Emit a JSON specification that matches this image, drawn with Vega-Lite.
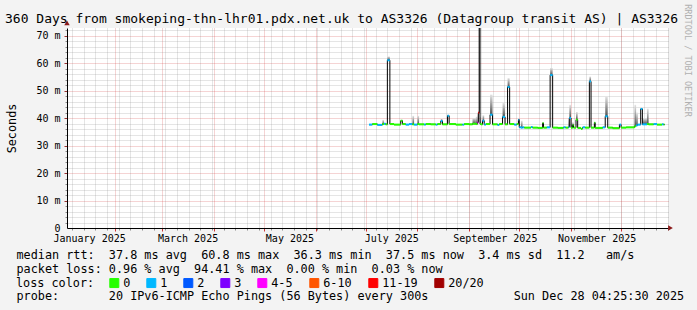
{
  "$schema": "https://vega.github.io/schema/vega-lite/v6.json",
  "width": 601,
  "height": 200,
  "autosize": {"type": "none"},
  "padding": {"left": 67, "top": 28, "right": 29, "bottom": 82},
  "background": "#f3f3f3",
  "view": {"fill": "#ffffff", "stroke": null},
  "config": {
    "font": "DejaVu Sans Mono",
    "axis": {"labelFont": "DejaVu Sans Mono", "titleFont": "DejaVu Sans Mono", "titleFontWeight": "normal", "labelColor": "#000000", "titleColor": "#000000"}
  },
  "title": {
    "text": "360 Days from smokeping-thn-lhr01.pdx.net.uk to AS3326 (Datagroup transit AS) | AS3326",
    "anchor": "start", "frame": "group", "font": "DejaVu Sans Mono", "fontSize": 13, "fontWeight": "normal",
    "color": "#000000", "baseline": "alphabetic", "offset": 4, "dx": -62, "dy": 36
  },
  "data": {"values": [
    {"t":"2025-07-03","m":37.6,"l":"1"},
    {"t":"2025-07-05","m":37.8,"l":"0"},
    {"t":"2025-07-08","m":37.5,"l":"1"},
    {"t":"2025-07-11","m":37.8,"l":"0","s":39.3},
    {"t":"2025-07-12","m":37.9,"l":"1"},
    {"t":"2025-07-13","m":37.7,"l":"0"},
    {"t":"2025-07-14","m":61.0,"l":"1","s":62.4},
    {"t":"2025-07-15T12:00:00Z","m":37.8,"l":"0"},
    {"t":"2025-07-18","m":37.6,"l":"0"},
    {"t":"2025-07-22","m":39.0,"l":"0","s":39.4},
    {"t":"2025-07-23","m":37.8,"l":"0"},
    {"t":"2025-07-25","m":37.6,"l":"1"},
    {"t":"2025-07-27","m":37.8,"l":"1"},
    {"t":"2025-07-29","m":37.7,"l":"0","s":40.8},
    {"t":"2025-07-30","m":37.6,"l":"1"},
    {"t":"2025-08-01","m":37.8,"l":"0","s":40.8},
    {"t":"2025-08-02","m":37.7,"l":"0"},
    {"t":"2025-08-05","m":37.6,"l":"1"},
    {"t":"2025-08-06","m":37.8,"l":"0"},
    {"t":"2025-08-09","m":37.7,"l":"0"},
    {"t":"2025-08-12","m":37.6,"l":"1"},
    {"t":"2025-08-13","m":37.8,"l":"0"},
    {"t":"2025-08-15","m":38.9,"l":"1","s":39.8},
    {"t":"2025-08-16","m":37.7,"l":"0"},
    {"t":"2025-08-19","m":40.8,"l":"1","s":41.3},
    {"t":"2025-08-20","m":37.8,"l":"0"},
    {"t":"2025-08-24","m":37.6,"l":"0"},
    {"t":"2025-08-28","m":37.6,"l":"1"},
    {"t":"2025-08-29","m":37.8,"l":"0"},
    {"t":"2025-09-01","m":37.7,"l":"0"},
    {"t":"2025-09-03","m":37.9,"l":"0","s":40.0},
    {"t":"2025-09-05","m":37.8,"l":"0","s":40.5},
    {"t":"2025-09-06","m":38.4,"l":"4-5","s":41.5},
    {"t":"2025-09-06T12:00:00Z","m":41.9,"l":"11-19","s":42.5},
    {"t":"2025-09-07","m":85.0,"l":"20/20"},
    {"t":"2025-09-07T12:00:00Z","m":37.8,"l":"0","s":40.5},
    {"t":"2025-09-08","m":37.7,"l":"0"},
    {"t":"2025-09-09","m":39.0,"l":"1","s":41.0},
    {"t":"2025-09-10","m":37.6,"l":"1"},
    {"t":"2025-09-11","m":37.8,"l":"0"},
    {"t":"2025-09-13T12:00:00Z","m":41.2,"l":"1","s":48.5},
    {"t":"2025-09-15","m":37.7,"l":"0"},
    {"t":"2025-09-18","m":37.5,"l":"1"},
    {"t":"2025-09-19","m":37.8,"l":"0"},
    {"t":"2025-09-21","m":40.4,"l":"1","s":45.5},
    {"t":"2025-09-22T12:00:00Z","m":37.7,"l":"0"},
    {"t":"2025-09-24","m":51.3,"l":"1","s":54.5},
    {"t":"2025-09-25T06:00:00Z","m":37.8,"l":"0"},
    {"t":"2025-09-28","m":37.6,"l":"1"},
    {"t":"2025-09-29T12:00:00Z","m":37.8,"l":"0"},
    {"t":"2025-09-30T12:00:00Z","m":39.4,"l":"1","s":39.8},
    {"t":"2025-10-01","m":36.6,"l":"1"},
    {"t":"2025-10-02","m":36.5,"l":"1","s":39.0},
    {"t":"2025-10-03","m":36.6,"l":"1"},
    {"t":"2025-10-04","m":36.5,"l":"0"},
    {"t":"2025-10-08","m":36.7,"l":"1"},
    {"t":"2025-10-09","m":36.5,"l":"0"},
    {"t":"2025-10-12","m":36.4,"l":"0"},
    {"t":"2025-10-15","m":38.2,"l":"0"},
    {"t":"2025-10-15T12:00:00Z","m":36.5,"l":"0"},
    {"t":"2025-10-17T12:00:00Z","m":36.6,"l":"1"},
    {"t":"2025-10-19T12:00:00Z","m":55.6,"l":"1","s":58.2},
    {"t":"2025-10-21","m":36.5,"l":"0"},
    {"t":"2025-10-24","m":36.4,"l":"0"},
    {"t":"2025-10-27T12:00:00Z","m":36.6,"l":"1"},
    {"t":"2025-10-28T18:00:00Z","m":36.5,"l":"0"},
    {"t":"2025-10-30T12:00:00Z","m":36.7,"l":"1","s":40.0},
    {"t":"2025-10-31","m":40.0,"l":"1","s":44.8},
    {"t":"2025-11-01","m":36.5,"l":"0","s":38.5},
    {"t":"2025-11-02","m":37.5,"l":"0","s":38.5},
    {"t":"2025-11-02T12:00:00Z","m":36.5,"l":"0"},
    {"t":"2025-11-04","m":39.4,"l":"0","s":42.2},
    {"t":"2025-11-05","m":36.4,"l":"0"},
    {"t":"2025-11-07","m":36.0,"l":"0"},
    {"t":"2025-11-07T18:00:00Z","m":36.4,"l":"0"},
    {"t":"2025-11-08","m":36.6,"l":"1"},
    {"t":"2025-11-09T12:00:00Z","m":36.5,"l":"0"},
    {"t":"2025-11-12","m":53.3,"l":"1","s":55.1},
    {"t":"2025-11-13","m":36.5,"l":"0"},
    {"t":"2025-11-15","m":38.3,"l":"0"},
    {"t":"2025-11-15T12:00:00Z","m":36.4,"l":"0"},
    {"t":"2025-11-20","m":36.6,"l":"1"},
    {"t":"2025-11-21T12:00:00Z","m":40.6,"l":"1","s":47.9},
    {"t":"2025-11-23","m":36.5,"l":"0"},
    {"t":"2025-11-26","m":36.3,"l":"0"},
    {"t":"2025-11-30","m":37.6,"l":"1"},
    {"t":"2025-12-01","m":36.5,"l":"0"},
    {"t":"2025-12-04","m":36.6,"l":"0"},
    {"t":"2025-12-09","m":37.0,"l":"0","s":44.8},
    {"t":"2025-12-10","m":37.4,"l":"1","s":42.0},
    {"t":"2025-12-11","m":37.6,"l":"1"},
    {"t":"2025-12-12T18:00:00Z","m":43.3,"l":"1","s":43.6},
    {"t":"2025-12-13T18:00:00Z","m":37.7,"l":"1","s":40.0},
    {"t":"2025-12-16T12:00:00Z","m":37.8,"l":"0","s":43.4},
    {"t":"2025-12-17T12:00:00Z","m":37.7,"l":"0"},
    {"t":"2025-12-20T12:00:00Z","m":37.8,"l":"1"},
    {"t":"2025-12-22T12:00:00Z","m":37.6,"l":"0"},
    {"t":"2025-12-25T12:00:00Z","m":37.7,"l":"1"},
    {"t":"2025-12-26T12:00:00Z","m":37.6,"l":"0"},
    {"t":"2025-12-27","m":37.5,"l":"0"}
  ]},
  "transform": [
    {"window": [{"op": "lead", "field": "t", "as": "t2"}], "sort": [{"field": "t", "order": "ascending"}]}
  ],
  "layer": [
    {
      "transform": [{"filter": "isValid(datum.s) && isValid(datum.t2)"}],
      "mark": {"type": "rect", "clip": true, "fill": {"gradient": "linear", "x1": 0, "y1": 1, "x2": 0, "y2": 0, "stops": [{"offset": 0, "color": "#505050"}, {"offset": 1, "color": "#e4e4e4"}]}},
      "encoding": {
        "x": {"field": "t", "type": "temporal",
          "scale": {"type": "utc", "domain": [{"year": 2025, "month": 1, "date": 3, "hours": 2, "minutes": 24, "utc": true}, {"year": 2025, "month": 12, "date": 29, "hours": 2, "minutes": 24, "utc": true}]},
          "axis": {"orient": "bottom", "labels": false, "domain": false, "grid": true, "gridColor": "#8c8c8c", "gridOpacity": 0.45, "gridDash": [1, 1], "ticks": true, "tickSize": 2, "tickColor": "#8c8c8c",
            "title": "probe:\u00a0\u00a0\u00a0\u00a0\u00a0\u00a0\u00a020 IPv6-ICMP Echo Pings (56 Bytes) every 300s\u00a0\u00a0\u00a0\u00a0\u00a0\u00a0\u00a0\u00a0\u00a0\u00a0\u00a0\u00a0Sun Dec 28 04:25:30 2025",
            "titleX": -51, "titleY": 71.3, "titleAlign": "left", "titleBaseline": "alphabetic", "titleFontSize": 11.8,
            "values": [
              {"year":2025,"month":1,"date":6,"utc":true},{"year":2025,"month":1,"date":13,"utc":true},{"year":2025,"month":1,"date":20,"utc":true},{"year":2025,"month":1,"date":27,"utc":true},
              {"year":2025,"month":2,"date":3,"utc":true},{"year":2025,"month":2,"date":10,"utc":true},{"year":2025,"month":2,"date":17,"utc":true},{"year":2025,"month":2,"date":24,"utc":true},
              {"year":2025,"month":3,"date":3,"utc":true},{"year":2025,"month":3,"date":10,"utc":true},{"year":2025,"month":3,"date":17,"utc":true},{"year":2025,"month":3,"date":24,"utc":true},{"year":2025,"month":3,"date":31,"utc":true},
              {"year":2025,"month":4,"date":7,"utc":true},{"year":2025,"month":4,"date":14,"utc":true},{"year":2025,"month":4,"date":21,"utc":true},{"year":2025,"month":4,"date":28,"utc":true},
              {"year":2025,"month":5,"date":5,"utc":true},{"year":2025,"month":5,"date":12,"utc":true},{"year":2025,"month":5,"date":19,"utc":true},{"year":2025,"month":5,"date":26,"utc":true},
              {"year":2025,"month":6,"date":2,"utc":true},{"year":2025,"month":6,"date":9,"utc":true},{"year":2025,"month":6,"date":16,"utc":true},{"year":2025,"month":6,"date":23,"utc":true},{"year":2025,"month":6,"date":30,"utc":true},
              {"year":2025,"month":7,"date":7,"utc":true},{"year":2025,"month":7,"date":14,"utc":true},{"year":2025,"month":7,"date":21,"utc":true},{"year":2025,"month":7,"date":28,"utc":true},
              {"year":2025,"month":8,"date":4,"utc":true},{"year":2025,"month":8,"date":11,"utc":true},{"year":2025,"month":8,"date":18,"utc":true},{"year":2025,"month":8,"date":25,"utc":true},
              {"year":2025,"month":9,"date":1,"utc":true},{"year":2025,"month":9,"date":8,"utc":true},{"year":2025,"month":9,"date":15,"utc":true},{"year":2025,"month":9,"date":22,"utc":true},{"year":2025,"month":9,"date":29,"utc":true},
              {"year":2025,"month":10,"date":6,"utc":true},{"year":2025,"month":10,"date":13,"utc":true},{"year":2025,"month":10,"date":20,"utc":true},{"year":2025,"month":10,"date":27,"utc":true},
              {"year":2025,"month":11,"date":3,"utc":true},{"year":2025,"month":11,"date":10,"utc":true},{"year":2025,"month":11,"date":17,"utc":true},{"year":2025,"month":11,"date":24,"utc":true},
              {"year":2025,"month":12,"date":1,"utc":true},{"year":2025,"month":12,"date":8,"utc":true},{"year":2025,"month":12,"date":15,"utc":true},{"year":2025,"month":12,"date":22,"utc":true},{"year":2025,"month":12,"date":29,"utc":true}
            ]}
        },
        "x2": {"field": "t2"},
        "y": {"field": "m", "type": "quantitative",
          "scale": {"domain": [0, 72.73], "nice": false, "zero": true},
          "axis": {"orient": "left", "title": null, "labels": false, "domain": false, "grid": true, "gridColor": "#8c8c8c", "gridOpacity": 0.45, "gridDash": [1, 1], "ticks": true, "tickSize": 2, "tickColor": "#8c8c8c",
            "values": [2,4,6,8,12,14,16,18,22,24,26,28,32,34,36,38,42,44,46,48,52,54,56,58,62,64,66,68,72]}
        },
        "y2": {"field": "s"}
      }
    },
    {
      "mark": {"type": "line", "interpolate": "step-after", "color": "#000000", "strokeWidth": 1, "clip": true},
      "encoding": {
        "x": {"field": "t", "type": "temporal",
          "axis": {"orient": "bottom", "title": null, "labels": false, "domain": false, "grid": true, "gridColor": "#cc3333", "gridOpacity": 0.42, "gridDash": [1, 1], "ticks": true, "tickSize": 3, "tickColor": "#cc3333",
            "values": [
              {"year":2025,"month":2,"date":1,"utc":true},{"year":2025,"month":3,"date":1,"utc":true},{"year":2025,"month":4,"date":1,"utc":true},{"year":2025,"month":5,"date":1,"utc":true},
              {"year":2025,"month":6,"date":1,"utc":true},{"year":2025,"month":7,"date":1,"utc":true},{"year":2025,"month":8,"date":1,"utc":true},{"year":2025,"month":9,"date":1,"utc":true},
              {"year":2025,"month":10,"date":1,"utc":true},{"year":2025,"month":11,"date":1,"utc":true},{"year":2025,"month":12,"date":1,"utc":true}
            ]}
        },
        "y": {"field": "m", "type": "quantitative",
          "axis": {"orient": "left", "labels": false, "domain": false, "grid": true, "gridColor": "#cc3333", "gridOpacity": 0.42, "gridDash": [1, 1], "ticks": true, "tickSize": 3, "tickColor": "#993333",
            "values": [10,20,30,40,50,60,70],
            "title": "RRDTOOL / TOBI OETIKER", "titleX": 620, "titleY": 32, "titleAngle": 90, "titleAlign": "center", "titleBaseline": "middle", "titleFontSize": 8.5, "titleColor": "#b0b0b0"}
        }
      }
    },
    {
      "transform": [{"filter": "isValid(datum.t2)"}],
      "mark": {"type": "rule", "strokeWidth": 2, "clip": true},
      "encoding": {
        "x": {"field": "t", "type": "temporal",
          "axis": {"orient": "bottom", "format": "%B %Y", "grid": false, "ticks": false, "tickSize": 0, "domain": true, "domainColor": "#000000", "domainWidth": 1,
            "labelFontSize": 10, "labelBaseline": "alphabetic", "labelPadding": 13, "labelFlush": false, "labelOverlap": false,
            "values": [
              {"year":2025,"month":1,"date":16,"hours":8,"utc":true},{"year":2025,"month":3,"date":16,"hours":8,"utc":true},{"year":2025,"month":5,"date":16,"hours":8,"utc":true},
              {"year":2025,"month":7,"date":16,"hours":8,"utc":true},{"year":2025,"month":9,"date":16,"hours":8,"utc":true},{"year":2025,"month":11,"date":16,"hours":8,"utc":true}
            ],
            "title": [
              "median rtt:\u00a0\u00a037.8 ms avg\u00a0\u00a060.8 ms max\u00a0\u00a036.3 ms min\u00a0\u00a037.5 ms now\u00a0\u00a03.4 ms sd\u00a0\u00a011.2\u00a0\u00a0\u00a0am/s",
              "packet loss: 0.96 % avg\u00a0\u00a094.41 % max\u00a0\u00a00.00 % min\u00a0\u00a00.03 % now"
            ],
            "titleX": -51, "titleY": 30.5, "titleAlign": "left", "titleBaseline": "alphabetic", "titleFontSize": 11.8, "titleLineHeight": 13.6}
        },
        "x2": {"field": "t2"},
        "y": {"field": "m", "type": "quantitative",
          "axis": {"orient": "left", "values": [0,10,20,30,40,50,60,70],
            "labelExpr": "datum.value == 0 ? '0\u00a0\u00a0' : datum.value + '\u00a0m'",
            "grid": false, "ticks": false, "tickSize": 0, "labelPadding": 7, "labelFontSize": 10, "labelOverlap": false,
            "domain": true, "domainColor": "#000000", "domainWidth": 1,
            "title": "Seconds", "titleX": -52, "titleY": 100, "titleAngle": -90, "titleAlign": "center", "titleBaseline": "alphabetic", "titleFontSize": 11.8}
        },
        "color": {"field": "l", "type": "nominal",
          "scale": {"domain": ["0","1","2","3","4-5","6-10","11-19","20/20"], "range": ["#26ff00","#00b8ff","#0059ff","#7e00ff","#ff00ff","#ff5500","#ff0000","#a10000"]},
          "legend": {"orient": "none", "legendX": -51, "legendY": 249, "direction": "horizontal", "padding": 0,
            "title": "loss color:", "titleOrient": "left", "titleAnchor": "middle", "titleBaseline": "middle", "titlePadding": 13.4,
            "titleFont": "DejaVu Sans Mono", "titleFontSize": 11.8, "titleFontWeight": "normal", "titleColor": "#000000",
            "symbolType": "square", "symbolSize": 81, "symbolStrokeWidth": 1, "labelFont": "DejaVu Sans Mono", "labelFontSize": 11.8, "labelColor": "#000000",
            "labelOffset": 3, "columnPadding": 14, "gridAlign": "each",
            "encode": {"symbols": {"update": {"fill": {"scale": "color", "field": "value"}, "stroke": {"value": "#000000"}, "strokeWidth": {"value": 1}, "opacity": {"value": 1}}}}}
        }
      }
    },
    {
      "data": {"values": [{"arrow": "x"}]},
      "mark": {"type": "point", "shape": "triangle-right", "filled": true, "size": 30, "color": "#8b1a1a", "opacity": 1},
      "encoding": {
        "x": {"datum": {"year": 2025, "month": 12, "date": 30, "hours": 14, "utc": true}, "type": "temporal", "axis": null},
        "y": {"datum": 0, "type": "quantitative", "axis": null}
      }
    },
    {
      "data": {"values": [{"arrow": "y"}]},
      "mark": {"type": "point", "shape": "triangle-up", "filled": true, "size": 30, "color": "#8b1a1a", "opacity": 1},
      "encoding": {
        "x": {"datum": {"year": 2025, "month": 1, "date": 3, "hours": 2, "minutes": 24, "utc": true}, "type": "temporal", "axis": null},
        "y": {"datum": 74.6, "type": "quantitative", "axis": null}
      }
    }
  ],
  "resolve": {"axis": {"x": "independent", "y": "independent"}}
}
